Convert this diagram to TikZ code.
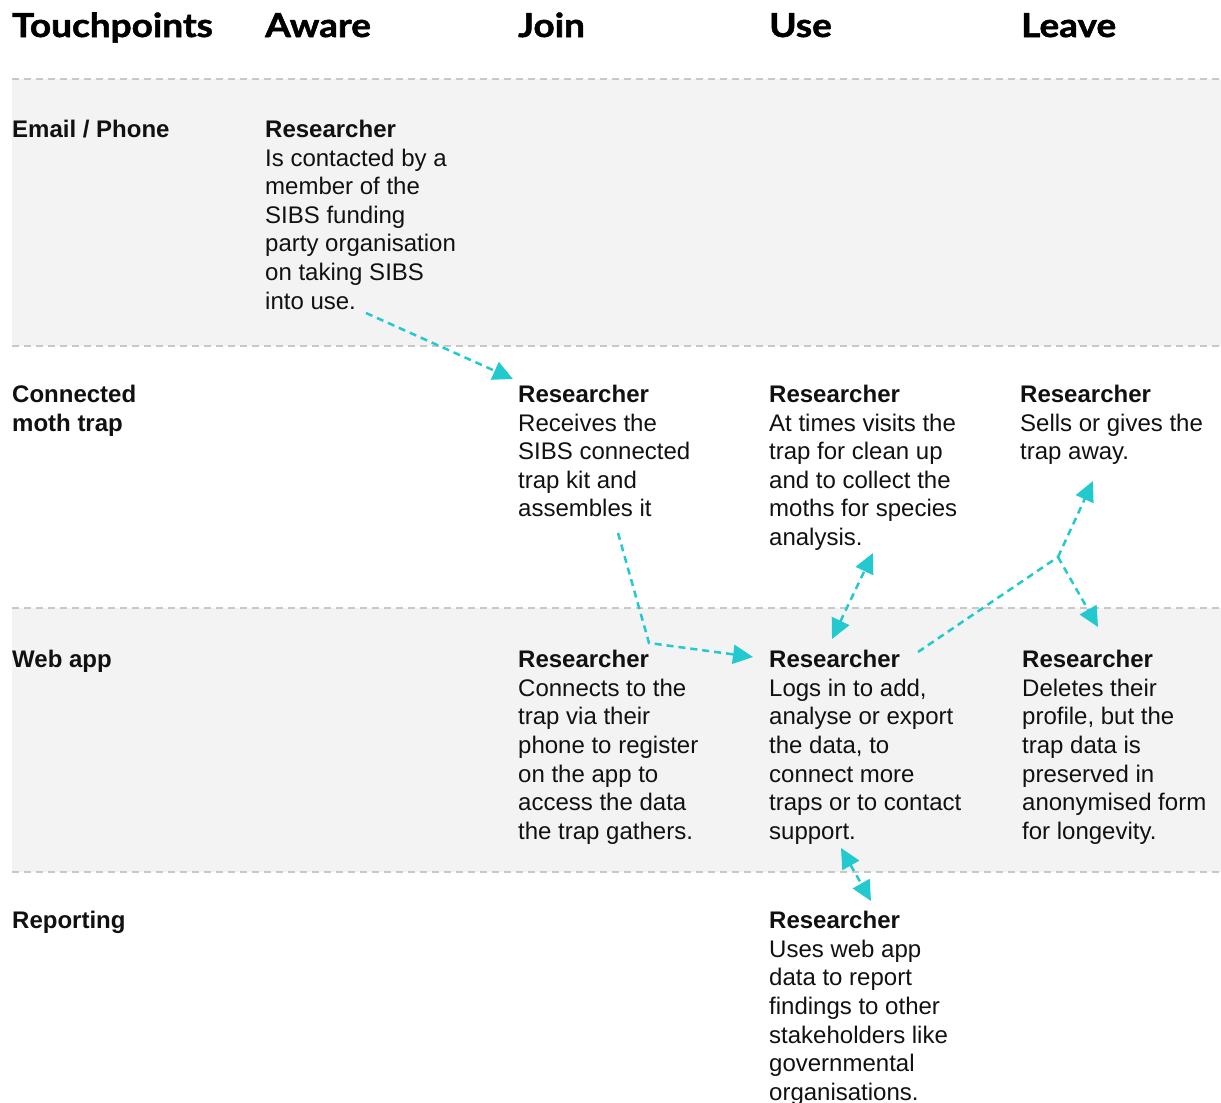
\documentclass[tikz,border=0pt]{standalone}
\usepackage{fontspec}
\setmainfont{Liberation Sans}
\newfontfamily\headfont{Lato}[FakeStretch=1.12,BoldFeatures={FakeBold=1.6}]
\usetikzlibrary{arrows.meta}
\definecolor{band}{HTML}{F3F3F3}
\definecolor{rulegray}{HTML}{C8C8C8}
\definecolor{flow}{HTML}{22C9CE}
\definecolor{ink}{HTML}{111111}
\begin{document}
\begin{tikzpicture}[x=1pt,y=-1pt,
  head/.style={anchor=base west, inner sep=0, text=black, font=\headfont\bfseries\fontsize{33}{36}\selectfont},
  rowlabel/.style={anchor=north west, inner sep=0, align=left, text=ink, font=\bfseries\fontsize{24}{28.6}\selectfont},
  card/.style={anchor=north west, inner sep=0, align=left, text=ink, font=\fontsize{24}{28.6}\selectfont},
  sep/.style={rulegray, line width=1.5pt, dash pattern=on 7pt off 5pt},
  flowline/.style={flow, line width=2.5pt, dash pattern=on 7pt off 5pt},
  tip/.style={-{Triangle[length=20pt,width=19pt]}},
  tips/.style={{Triangle[length=20pt,width=19pt]}-{Triangle[length=20pt,width=19pt]}}]
\useasboundingbox (0,0) rectangle (1221,1103);
% bands
\fill[band] (12,79) rectangle (1221,346);
\fill[band] (12,608) rectangle (1221,872);
\foreach \yy in {79,346,608,872} \draw[sep] (12,\yy) -- (1221,\yy);
% headers
\node[head] (hTouch) at (12,37) {Touchpoints};
\node[head] (hAware) at (265,37) {Aware};
\node[head] (hJoin) at (518,37) {Join};
\node[head] (hUse) at (769,37) {Use};
\node[head] (hLeave) at (1021,37) {Leave};
% row labels
\node[rowlabel] (lEmail) at (12,120) {Email / Phone};
\node[rowlabel] (lTrap) at (12,385) {Connected\\moth trap};
\node[rowlabel] (lWeb) at (12,650) {Web app};
\node[rowlabel] (lRep) at (12,911) {Reporting};
% cards
\node[card] (cEmail) at (265,120) {\textbf{Researcher}\\Is contacted by a\\member of the\\SIBS funding\\party organisation\\on taking SIBS\\into use.};
\node[card] (cTrapJoin) at (518,385) {\textbf{Researcher}\\Receives the\\SIBS connected\\trap kit and\\assembles it};
\node[card] (cTrapUse) at (769,385) {\textbf{Researcher}\\At times visits the\\trap for clean up\\and to collect the\\moths for species\\analysis.};
\node[card] (cTrapLeave) at (1020,385) {\textbf{Researcher}\\Sells or gives the\\trap away.};
\node[card] (cWebJoin) at (518,650) {\textbf{Researcher}\\Connects to the\\trap via their\\phone to register\\on the app to\\access the data\\the trap gathers.};
\node[card] (cWebUse) at (769,650) {\textbf{Researcher}\\Logs in to add,\\analyse or export\\the data, to\\connect more\\traps or to contact\\support.};
\node[card] (cWebLeave) at (1022,650) {\textbf{Researcher}\\Deletes their\\profile, but the\\trap data is\\preserved in\\anonymised form\\for longevity.};
\node[card] (cRepUse) at (769,911) {\textbf{Researcher}\\Uses web app\\data to report\\findings to other\\stakeholders like\\governmental\\organisations.};
% connector end points
\coordinate (a1s) at (366,313);
\coordinate (a1e) at (513,379);
\coordinate (a2s) at (618,533);
\coordinate (a2m) at (649,643);
\coordinate (a2e) at (753,657);
\coordinate (a3s) at (832,639);
\coordinate (a3e) at (873,553);
\coordinate (a4s) at (918,652);
\coordinate (a4m) at (1058,557);
\coordinate (a4u) at (1093,481);
\coordinate (a4d) at (1098,627);
\coordinate (a5s) at (841,848);
\coordinate (a5e) at (871,901);
% connectors
\draw[flowline, tip] (a1s) -- (a1e);
\draw[flowline, tip] (a2s) -- (a2m) -- (a2e);
\draw[flowline, tips] (a3s) -- (a3e);
\draw[flowline] (a4s) -- (a4m);
\draw[flowline, tip] (a4m) -- (a4u);
\draw[flowline, tip] (a4m) -- (a4d);
\draw[flowline, tips] (a5s) -- (a5e);
\end{tikzpicture}
\end{document}
